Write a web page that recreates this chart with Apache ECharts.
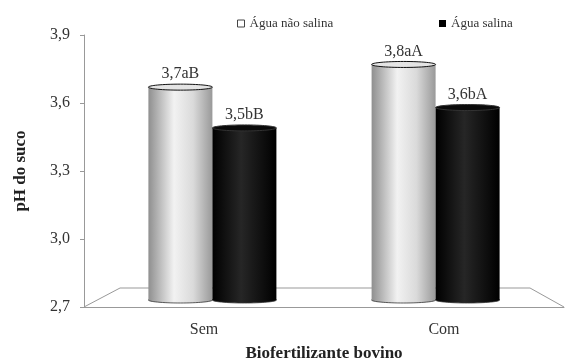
<!DOCTYPE html>
<html><head><meta charset="utf-8">
<script src="https://cdn.jsdelivr.net/npm/echarts@6/dist/echarts.min.js"></script>
<style>html,body{margin:0;padding:0;background:#fff}#c{width:565px;height:361px}</style>
</head><body><div id="c"></div>
<script>
var categories = ['Sem', 'Com'];
var seriesNames = ['Água não salina', 'Água salina'];
var naoSalina = [3.67, 3.77];
var salina = [3.49, 3.58];
var labelsNaoSalina = ['3,7aB', '3,8aA'];
var labelsSalina = ['3,5bB', '3,6bA'];
var yTicks = [2.7, 3.0, 3.3, 3.6, 3.9];

var FONT = '"Liberation Serif", "Times New Roman", serif';
var Y_MIN = yTicks[0], Y_MAX = yTicks[yTicks.length - 1];
var BAR_W = 64;
var PERSPECTIVE = 0.07;

function cylinder(side, labels, fillGrad, capFill, capStroke) {
  return function (params, api) {
    var ci = api.value(0);
    var v = api.value(1);
    var top = api.coord([ci, v]);
    var base = api.coord([ci, Y_MIN]);
    var cs = params.coordSys;
    var mid = cs.x + cs.width / 2;
    var catX = top[0] + (mid - top[0]) * PERSPECTIVE;
    var cx = catX + (side === 0 ? -BAR_W / 2 : BAR_W / 2);
    var x0 = cx - BAR_W / 2;
    var yTop = top[1];
    var yBot = base[1] - 7;
    var ry = 3;
    return {
      type: 'group',
      children: [
        { type: 'ellipse', shape: { cx: cx, cy: yBot, rx: BAR_W / 2, ry: ry }, style: { fill: fillGrad, stroke: '#333', lineWidth: 0.8 } },
        { type: 'rect', shape: { x: x0, y: yTop, width: BAR_W, height: yBot - yTop }, style: { fill: fillGrad } },
        { type: 'ellipse', shape: { cx: cx, cy: yTop, rx: BAR_W / 2, ry: ry }, style: { fill: capFill, stroke: capStroke, lineWidth: 1 } },
        { type: 'text', x: cx, y: yTop - 5, style: { text: labels[params.dataIndex], font: '16px ' + FONT, fill: '#333', align: 'center', verticalAlign: 'bottom' } }
      ]
    };
  };
}

var lightGrad = new echarts.graphic.LinearGradient(0, 0, 1, 0, [
  { offset: 0, color: '#8f8f8f' }, { offset: 0.4, color: '#f2f2f2' }, { offset: 0.7, color: '#dadada' }, { offset: 1, color: '#999' }
]);
var darkGrad = new echarts.graphic.LinearGradient(0, 0, 1, 0, [
  { offset: 0, color: '#000' }, { offset: 0.45, color: '#262626' }, { offset: 1, color: '#000' }
]);

var legendText = { fontFamily: 'Liberation Serif', fontSize: 13, color: '#333' };

var chart = echarts.init(document.getElementById('c'), null, { renderer: 'canvas' });
chart.setOption({
  animation: false,
  backgroundColor: '#fff',
  grid: { left: 84, right: 1, top: 35, bottom: 54, containLabel: false, outerBoundsMode: 'none' },
  legend: [
    { left: 237, top: 17, padding: 0, itemWidth: 7, itemHeight: 7, itemGap: 3, textStyle: legendText,
      data: [{ name: seriesNames[0], icon: 'rect', itemStyle: { color: '#fff', borderColor: '#444', borderWidth: 1 } }] },
    { left: 439, top: 17, padding: 0, itemWidth: 7, itemHeight: 7, itemGap: 3, textStyle: legendText,
      data: [{ name: seriesNames[1], icon: 'rect', itemStyle: { color: '#000' } }] }
  ],
  xAxis: {
    type: 'category', data: categories,
    name: 'Biofertilizante bovino', nameLocation: 'middle', nameGap: 38,
    nameTextStyle: { fontFamily: FONT, fontSize: 17, fontWeight: 'bold', color: '#222' },
    axisLine: { lineStyle: { color: '#999', width: 1 } },
    axisTick: { lineStyle: { color: '#999' }, length: 5 },
    axisLabel: { fontFamily: FONT, fontSize: 16, color: '#333', margin: 15 }
  },
  yAxis: {
    type: 'value', min: Y_MIN, max: Y_MAX, interval: 0.3,
    name: 'pH do suco', nameLocation: 'middle', nameGap: 55,
    nameTextStyle: { fontFamily: FONT, fontSize: 17, fontWeight: 'bold', color: '#222' },
    axisLine: { show: true, lineStyle: { color: '#999' } },
    axisTick: { show: true, length: 4, lineStyle: { color: '#999' } },
    splitLine: { show: false },
    axisLabel: { fontFamily: FONT, fontSize: 16, color: '#333', margin: 14,
      formatter: function (v) { return v.toFixed(1).replace('.', ','); } }
  },
  series: [
    { type: 'custom', name: 'floor', silent: true, z: 1,
      data: [[0, Y_MIN]],
      renderItem: function (params, api) {
        var cs = params.coordSys;
        var yb = cs.y + cs.height;
        return { type: 'polyline', shape: { points: [[cs.x, yb], [cs.x + 36, yb - 19], [cs.x + cs.width - 34, yb - 19], [cs.x + cs.width, yb]] },
          style: { stroke: '#999', lineWidth: 1, fill: null } };
      } },
    { type: 'custom', name: seriesNames[0], z: 3, itemStyle: { color: '#fff' },
      data: naoSalina.map(function (v, i) { return [i, v]; }),
      renderItem: cylinder(0, labelsNaoSalina, lightGrad, '#e4e4e4', '#111') },
    { type: 'custom', name: seriesNames[1], z: 3, itemStyle: { color: '#000' },
      data: salina.map(function (v, i) { return [i, v]; }),
      renderItem: cylinder(1, labelsSalina, darkGrad, '#0a0a0a', '#333') }
  ]
});
</script></body></html>
